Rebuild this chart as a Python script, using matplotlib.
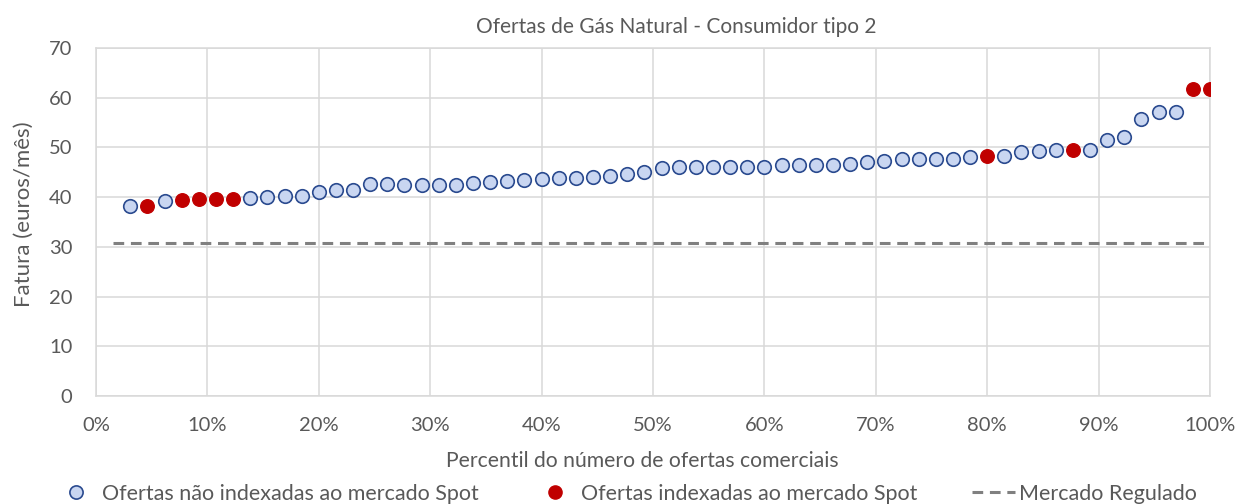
import matplotlib
matplotlib.use("Agg")
import matplotlib.pyplot as plt
from matplotlib.lines import Line2D
from matplotlib.ticker import PercentFormatter

plt.rcParams['font.family'] = ['Lato', 'DejaVu Sans']

# Offer rank (out of 65) and monthly bill in euros
n_total = 65
rank = list(range(2, 66))
fatura = [
    38.2, 38.3, 39.2, 39.5, 39.7, 39.7, 39.7, 39.8, 40.0, 40.3,
    40.3, 41.1, 41.5, 41.5, 42.6, 42.6, 42.5, 42.5, 42.5, 42.5,
    42.8, 43.1, 43.3, 43.4, 43.6, 43.8, 43.8, 44.0, 44.2, 44.7,
    45.1, 45.8, 46.0, 46.1, 46.1, 46.1, 46.1, 46.1, 46.5, 46.5,
    46.5, 46.5, 46.6, 47.1, 47.3, 47.6, 47.7, 47.7, 47.7, 48.0,
    48.2, 48.2, 49.1, 49.3, 49.5, 49.5, 49.5, 51.4, 52.0, 55.7,
    57.1, 57.1, 61.7, 61.7,
]
# Ranks of offers indexed to the Spot market
spot_ranks = [3, 5, 6, 7, 8, 52, 57, 64, 65]
# Regulated-market reference bill, drawn across ranks 1..65
mercado_regulado = 30.8
regulado_ranks = [1, 65]

title = "Ofertas de Gás Natural - Consumidor tipo 2"
xlabel = "Percentil do número de ofertas comerciais"
ylabel = "Fatura (euros/mês)"
leg_labels = ["Ofertas não indexadas ao mercado Spot",
              "Ofertas indexadas ao mercado Spot",
              "Mercado Regulado"]

txt = "#595959"
grid_c = "#d9d9d9"
face_blue = "#c9d6f1"
edge_blue = "#2a4a8f"
red = "#c00000"
dash_c = "#808080"

pct = [r / n_total * 100 for r in rank]
x_idx = [pct[i] for i, r in enumerate(rank) if r not in spot_ranks]
y_idx = [fatura[i] for i, r in enumerate(rank) if r not in spot_ranks]
x_spot = [pct[i] for i, r in enumerate(rank) if r in spot_ranks]
y_spot = [fatura[i] for i, r in enumerate(rank) if r in spot_ranks]
x_reg = [r / n_total * 100 for r in regulado_ranks]

W, H = 1239, 504
ax_l, ax_r, ax_t, ax_b = 96, 1210, 48, 396

fig = plt.figure(figsize=(W / 100, H / 100), dpi=100)
ax = fig.add_axes([ax_l / W, 1 - ax_b / H, (ax_r - ax_l) / W, (ax_b - ax_t) / H])

ax.plot(x_reg, [mercado_regulado] * len(x_reg), color=dash_c,
        lw=2.2, linestyle=(0, (3.5, 2.2)), zorder=2)
ax.scatter(x_idx, y_idx, s=95, facecolor=face_blue, edgecolor=edge_blue,
           linewidths=1.2, zorder=3)
ax.scatter(x_spot, y_spot, s=95, facecolor=red, edgecolor=red,
           linewidths=1.0, zorder=3)

ax.set_xlim(0, 100)
ax.set_ylim(0, 70)
ax.set_xticks(range(0, 101, 10))
ax.set_yticks(range(0, 71, 10))
ax.xaxis.set_major_formatter(PercentFormatter(decimals=0))
ax.grid(True, color=grid_c, lw=1.1, zorder=0)
ax.set_axisbelow(True)
for s in ax.spines.values():
    s.set_color(grid_c)
    s.set_linewidth(1.1)
ax.tick_params(axis='both', length=0, colors=txt, labelsize=14.5)
ax.tick_params(axis='x', pad=15)
ax.tick_params(axis='y', pad=17)

ax.set_xlabel(xlabel, color=txt, fontsize=15.2, va='center')
ax.xaxis.set_label_coords((642 - ax_l) / (ax_r - ax_l),
                          (ax_b - 461) / (ax_b - ax_t))
ax.set_ylabel(ylabel, color=txt, fontsize=16, va='center')
ax.yaxis.set_label_coords((24 - ax_l) / (ax_r - ax_l),
                          (ax_b - 214) / (ax_b - ax_t))
fig.text(676 / W, 1 - 27 / H, title, color=txt, fontsize=15,
         ha='center', va='center')

handles = [
    Line2D([], [], ls='none', marker='o', ms=9.5, mfc=face_blue,
           mec=edge_blue, mew=1.2),
    Line2D([], [], ls='none', marker='o', ms=9.5, mfc=red, mec=red),
    Line2D([], [], color=dash_c, lw=2.2, ls=(0, (3.5, 2.2))),
]
fig.legend(handles, leg_labels, loc='center', ncol=3,
           bbox_to_anchor=(0.505, 1 - 494 / H), frameon=False,
           fontsize=15.5, labelcolor=txt, columnspacing=2.55,
           handlelength=2.0, handletextpad=0.2)

fig.savefig("out.png", dpi=100)
